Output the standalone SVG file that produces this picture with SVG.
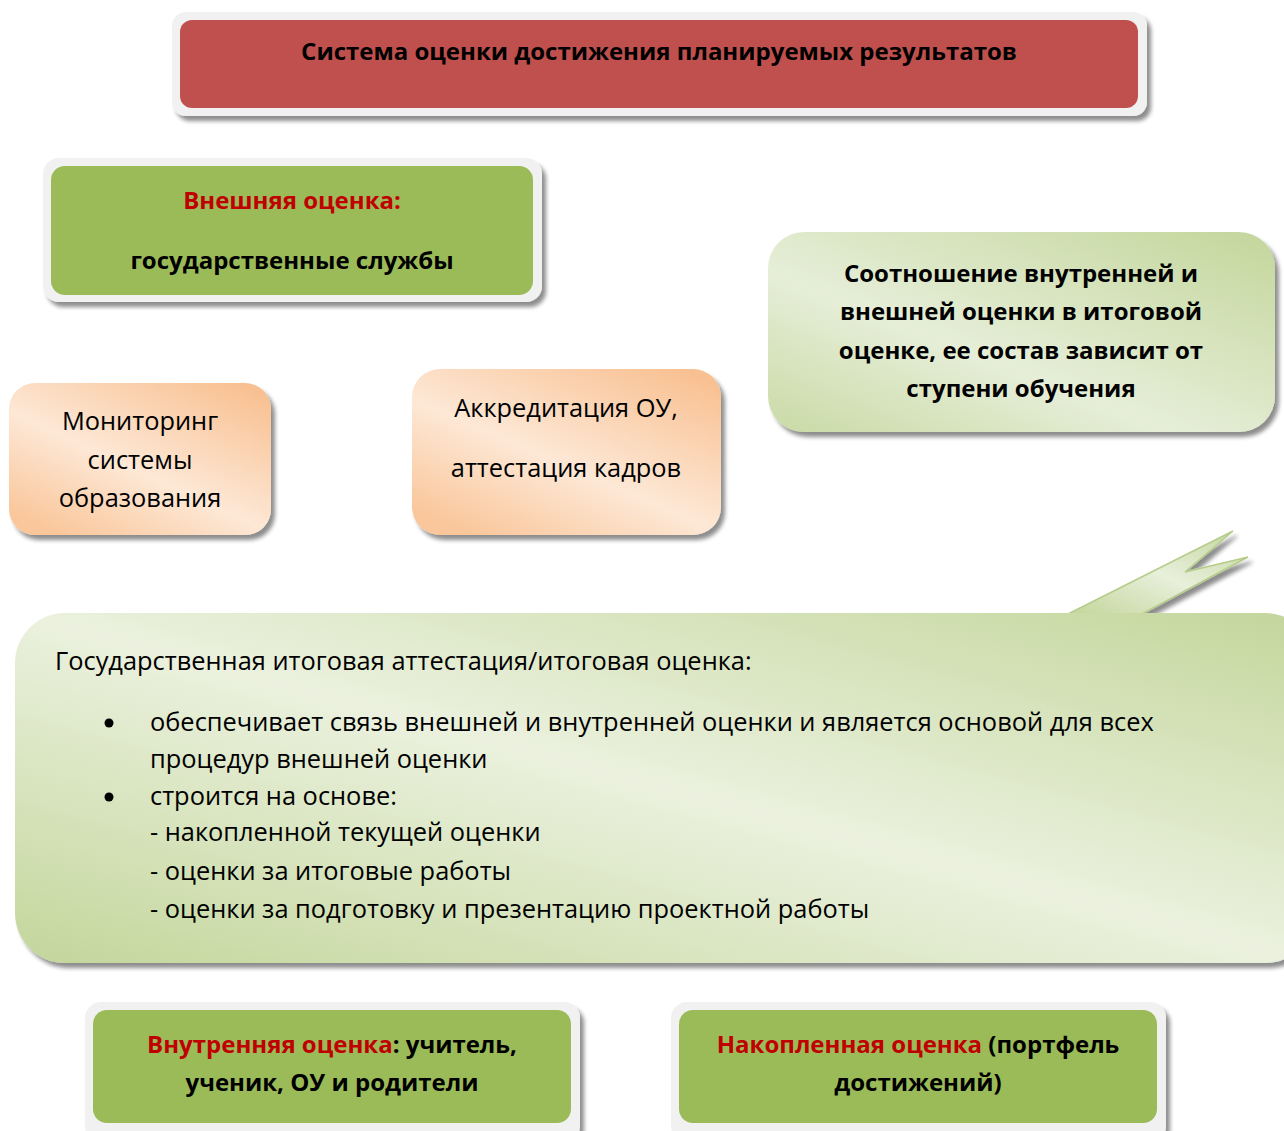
<svg xmlns="http://www.w3.org/2000/svg" width="1284" height="1131" viewBox="0 0 1284 1131">
<defs>
<style>
text{font-family:"Open Sans","DejaVu Sans",sans-serif;fill:#000}
.b{font-weight:bold}
.t24{font-size:24px}
.t25{font-size:25.4px}
.red{fill:#C00000}
.frame{fill:#f1f1f1}
</style>
<filter id="sh" x="-10%" y="-10%" width="130%" height="140%">
<feGaussianBlur in="SourceAlpha" stdDeviation="2"/>
<feOffset dx="4" dy="5" result="o"/>
<feComponentTransfer><feFuncA type="linear" slope="0.45"/></feComponentTransfer>
<feMerge><feMergeNode/><feMergeNode in="SourceGraphic"/></feMerge>
</filter>
<linearGradient id="gOr" x1="1" y1="0" x2="0.2" y2="1">
<stop offset="0" stop-color="#F8BC8A"/>
<stop offset="0.6" stop-color="#FDE8D6"/>
<stop offset="1" stop-color="#FAC79C"/>
</linearGradient>
<linearGradient id="gGr" x1="1" y1="0" x2="0" y2="1">
<stop offset="0" stop-color="#C3D69B"/>
<stop offset="0.6" stop-color="#E6EED8"/>
<stop offset="1" stop-color="#C9DAA5"/>
</linearGradient>
<linearGradient id="gBig" x1="1" y1="0" x2="0" y2="1">
<stop offset="0" stop-color="#C3D69B"/>
<stop offset="0.5" stop-color="#EBF1DE"/>
<stop offset="1" stop-color="#C3D69B"/>
</linearGradient>
<linearGradient id="gTail" x1="0" y1="1" x2="1" y2="0">
<stop offset="0" stop-color="#C3D69B"/>
<stop offset="0.5" stop-color="#E8EFDB"/>
<stop offset="1" stop-color="#C3D69B"/>
</linearGradient>
</defs>

<g id="connectors"></g>

<g id="title">
<rect x="172" y="12" width="975" height="104" rx="14" class="frame" filter="url(#sh)"/>
<rect x="180" y="20" width="958" height="88" rx="12" fill="#C0504D"/>
<text x="659" y="60" text-anchor="middle" class="b t24">Система оценки достижения планируемых результатов</text>
</g>

<g id="external">
<rect x="43" y="158" width="499" height="144" rx="16" class="frame" filter="url(#sh)"/>
<rect x="51" y="166" width="482" height="129" rx="14" fill="#9BBB59"/>
<text x="292" y="209" text-anchor="middle" class="b t24 red">Внешняя оценка:</text>
<text x="292" y="269" text-anchor="middle" class="b t24">государственные службы</text>
</g>

<g id="monitoring">
<rect x="9" y="383" width="262" height="152" rx="26" fill="url(#gOr)" filter="url(#sh)"/>
<text text-anchor="middle" class="t25"><tspan x="140" y="430">Мониторинг</tspan><tspan x="140" y="469">системы</tspan><tspan x="140" y="507">образования</tspan></text>
</g>

<g id="accreditation">
<rect x="412" y="369" width="309" height="166" rx="28" fill="url(#gOr)" filter="url(#sh)"/>
<text text-anchor="middle" class="t25"><tspan x="566" y="417">Аккредитация ОУ,</tspan><tspan x="566" y="477">аттестация кадров</tspan></text>
</g>

<g id="ratio">
<rect x="768" y="232" width="507" height="200" rx="36" fill="url(#gGr)" filter="url(#sh)"/>
<text text-anchor="middle" class="b t24"><tspan x="1021" y="282">Соотношение внутренней и</tspan><tspan x="1021" y="320">внешней оценки в итоговой</tspan><tspan x="1021" y="359">оценке, ее состав зависит от</tspan><tspan x="1021" y="397">ступени обучения</tspan></text>
</g>

<g id="final">
<g filter="url(#sh)">
<path d="M1068 614 L1233 531 L1185 572 L1248 557 L1142 614 Z" fill="url(#gTail)" stroke="#B5CC8A" stroke-width="1.5"/>
<rect x="15" y="613" width="1300" height="350" rx="50" fill="url(#gBig)"/>
</g>
<text class="t25" x="55" y="670">Государственная итоговая аттестация/итоговая оценка:</text>
<circle cx="109" cy="723" r="4.5" fill="#000"/>
<circle cx="109" cy="797" r="4.5" fill="#000"/>
<text class="t25"><tspan x="150" y="731">обеспечивает связь внешней и внутренней оценки и является основой для всех</tspan><tspan x="150" y="768">процедур внешней оценки</tspan><tspan x="150" y="805">строится на основе:</tspan><tspan x="150" y="841">- накопленной текущей оценки</tspan><tspan x="150" y="880">- оценки за итоговые работы</tspan><tspan x="150" y="918">- оценки за подготовку и презентацию проектной работы</tspan></text>
</g>

<g id="internal">
<rect x="85" y="1002" width="495" height="140" rx="16" class="frame" filter="url(#sh)"/>
<rect x="93" y="1010" width="478" height="113" rx="14" fill="#9BBB59"/>
<text x="332" y="1053" text-anchor="middle" class="b t24"><tspan class="red">Внутренняя оценка</tspan>: учитель,</text>
<text x="332" y="1091" text-anchor="middle" class="b t24">ученик, ОУ и родители</text>
</g>

<g id="accumulated">
<rect x="671" y="1002" width="495" height="140" rx="16" class="frame" filter="url(#sh)"/>
<rect x="679" y="1010" width="478" height="113" rx="14" fill="#9BBB59"/>
<text x="918" y="1053" text-anchor="middle" class="b t24"><tspan class="red">Накопленная оценка</tspan> (портфель</text>
<text x="918" y="1091" text-anchor="middle" class="b t24">достижений)</text>
</g>
</svg>
